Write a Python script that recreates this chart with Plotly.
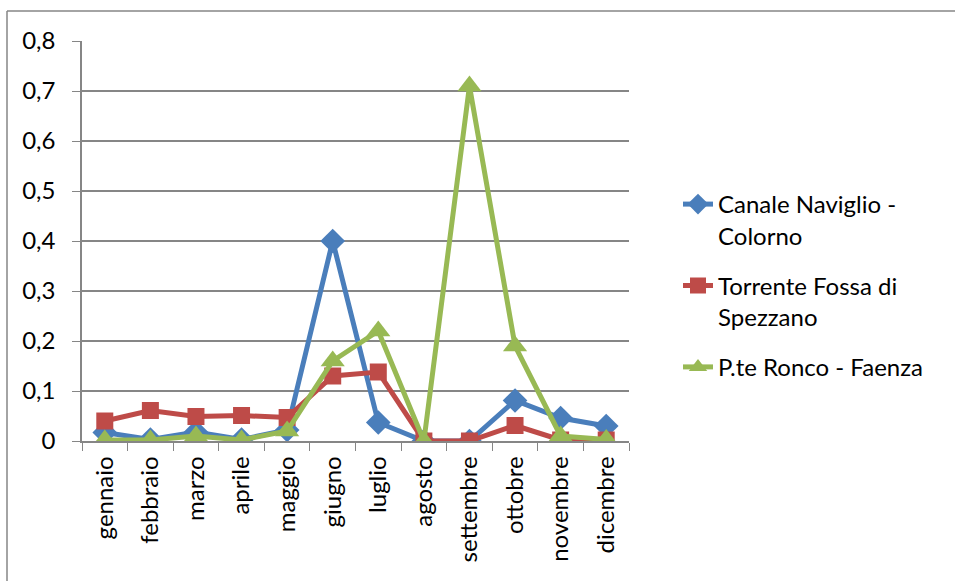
import plotly.graph_objects as go

months = ["gennaio", "febbraio", "marzo", "aprile", "maggio", "giugno",
          "luglio", "agosto", "settembre", "ottobre", "novembre", "dicembre"]
canale = [0.017, 0.003, 0.018, 0.003, 0.022, 0.40, 0.037, 0.0, 0.0, 0.081, 0.046, 0.030]
torrente = [0.040, 0.061, 0.049, 0.051, 0.047, 0.130, 0.138, 0.0, 0.0, 0.031, 0.002, 0.002]
ronco = [0.002, 0.002, 0.010, 0.002, 0.020, 0.160, 0.220, 0.0, 0.710, 0.190, 0.010, 0.003]
names = ["Canale Naviglio -<br>Colorno", "Torrente Fossa di<br>Spezzano", "P.te Ronco - Faenza"]
yticks = [0, 0.1, 0.2, 0.3, 0.4, 0.5, 0.6, 0.7, 0.8]
yticktext = ["0", "0,1", "0,2", "0,3", "0,4", "0,5", "0,6", "0,7", "0,8"]

colors = ["#4A7EBB", "#BE4B48", "#98B954"]
symbols = ["diamond", "square", "triangle-up"]
sizes = [19, 17, 21]
FONT = "Lato"
FS = 24

fig = go.Figure()
for i, (vals, nm) in enumerate(zip([canale, torrente, ronco], names)):
    fig.add_trace(go.Scatter(
        x=months, y=vals, name=nm, mode="lines+markers",
        legendgroup=f"g{i}",
        line=dict(color=colors[i], width=5),
        marker=dict(symbol=symbols[i], size=sizes[i], color=colors[i],
                    line=dict(width=0)),
    ))

L, R, T, B = 82, 326, 41, 140
W, H = 955, 581
pw, ph = W - L - R, H - T - B

def px(x):
    return (x - L) / pw

def py(y):
    return 1 - (y - T) / ph

fig.update_layout(
    width=W, height=H,
    margin=dict(l=L, r=R, t=T, b=B),
    paper_bgcolor="white", plot_bgcolor="white",
    font=dict(family=FONT, size=FS, color="black"),
    showlegend=True,
    legend=dict(x=px(678), y=py(182), xanchor="left", yanchor="top",
                valign="top", tracegroupgap=16,
                font=dict(family=FONT, size=FS, color="black")),
    xaxis=dict(
        type="category", tickangle=-90, showgrid=False,
        range=[-0.5, len(months) - 0.5],
        showline=True, linecolor="#868686", linewidth=1.5,
        ticks="outside", tickson="boundaries", ticklen=8, tickcolor="#868686",
        tickfont=dict(family=FONT, size=FS, color="black"),
        ticklabelstandoff=4,
    ),
    yaxis=dict(
        range=[0, 0.8], tickvals=yticks, ticktext=yticktext,
        showgrid=True, gridcolor="#868686", gridwidth=1.5,
        showline=True, linecolor="#868686", linewidth=1.5,
        ticks="outside", ticklen=8, tickcolor="#868686",
        tickfont=dict(family=FONT, size=FS, color="black"),
        ticklabelstandoff=12,
        zeroline=False,
    ),
    shapes=[
        dict(type="line", xref="paper", yref="paper",
             x0=px(7), x1=px(955), y0=py(11), y1=py(11),
             line=dict(color="#868686", width=1.5), layer="below"),
        dict(type="line", xref="paper", yref="paper",
             x0=px(7), x1=px(7), y0=py(11), y1=py(581),
             line=dict(color="#868686", width=1.5), layer="below"),
    ],
)

fig.write_html("out.html")
